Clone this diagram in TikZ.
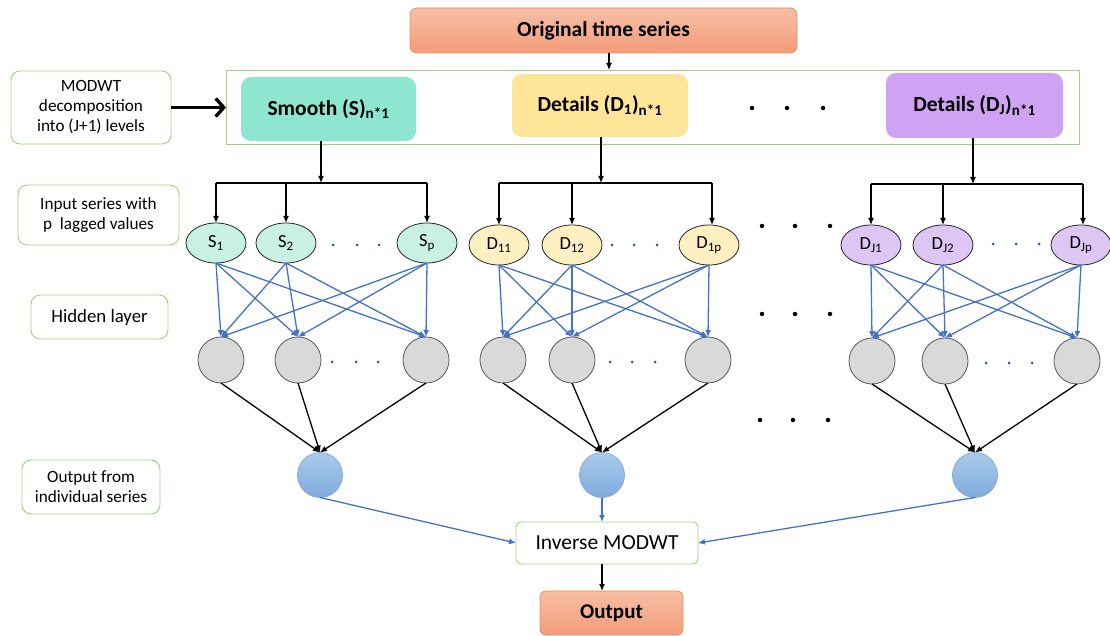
\documentclass[tikz,border=0pt]{standalone}
\usepackage{fontspec}
\setmainfont{Carlito}
\usetikzlibrary{arrows.meta,shapes.geometric}

\definecolor{orangeT}{HTML}{F7BFA5}
\definecolor{orangeB}{HTML}{F39C7A}
\definecolor{orangeD}{HTML}{EE8A5E}
\definecolor{greenB}{HTML}{A3CD85}
\definecolor{mint}{HTML}{8EE6D0}
\definecolor{yel}{HTML}{FFE597}
\definecolor{lav}{HTML}{CFA2F3}
\definecolor{mintL}{HTML}{C8F0E3}
\definecolor{yelL}{HTML}{FFF0C2}
\definecolor{lavL}{HTML}{DEC6F4}
\definecolor{hid}{HTML}{D9D9D9}
\definecolor{hidD}{HTML}{595959}
\definecolor{blueL}{HTML}{4472C4}
\definecolor{outT}{HTML}{A9CAEB}
\definecolor{outB}{HTML}{80ABDC}
\definecolor{outD}{HTML}{7BA3D6}
\definecolor{dotB}{HTML}{2F5597}

\begin{document}
\begin{tikzpicture}[x=1pt,y=-1pt,
  every node/.style={inner sep=0pt,outer sep=0pt},
  orangebox/.style={rectangle,rounded corners=7pt,top color=orangeT,bottom color=orangeB,draw=orangeD,line width=0.8pt,font=\fontsize{21.5}{24}\selectfont\bfseries},
  labelbox/.style={rectangle,rounded corners=9pt,draw=greenB,line width=0.9pt,fill=white,align=center,font=\fontsize{17.2}{20}\selectfont},
  compbox/.style={rectangle,rounded corners=10pt,font=\fontsize{21.5}{24}\selectfont\bfseries},
  inbase/.style={ellipse,minimum width=60pt,minimum height=40pt,draw=black!85,line width=0.8pt,font=\fontsize{18.5}{20}\selectfont},
  inS/.style={inbase,fill=mintL},
  inD/.style={inbase,fill=yelL},
  inJ/.style={inbase,fill=lavL},
  hidden/.style={circle,minimum size=46pt,fill=hid,draw=hidD,line width=0.8pt},
  outc/.style={circle,minimum size=45pt,top color=outT,bottom color=outB,draw=outD,line width=0.6pt},
  arr/.style={-{Latex[length=7pt,width=6pt]},line width=1.3pt,black},
  barl/.style={line width=1.3pt,black},
  barr/.style={-{Latex[length=7pt,width=6pt]},line width=1.3pt,blueL},
  bigdot/.style={circle,fill=black,minimum size=4.5pt},
  smalldot/.style={circle,fill=dotB,minimum size=3pt}
]
\useasboundingbox (0,0) rectangle (1110,636);

% top
\node[orangebox,minimum width=387pt,minimum height=45pt] (orig) at (603.5,30.5) {Original time series};
\node[draw=greenB,line width=0.9pt,minimum width=853pt,minimum height=74pt] (big) at (652.5,107) {};
\node[labelbox,minimum width=160pt,minimum height=73pt] (modwt) at (91,107.5) {MODWT\\decomposition\\into (J+1) levels};
\node[compbox,fill=mint,minimum width=175pt,minimum height=64pt] (smooth) at (328.5,109) {Smooth (S)\textsubscript{n*1}};
\node[compbox,fill=yel,minimum width=176pt,minimum height=63pt] (det1) at (600,105.5) {Details (D\textsubscript{1})\textsubscript{n*1}};
\node[compbox,fill=lav,minimum width=177pt,minimum height=65pt] (detJ) at (974.5,105.5) {Details (D\textsubscript{J})\textsubscript{n*1}};
\node[bigdot] (td1) at (752,108) {};
\node[bigdot] (td2) at (787,108) {};
\node[bigdot] (td3) at (823,108) {};

\coordinate (ot) at (609,70);
\draw[arr] (orig.south -| ot) -- (ot);
\draw[-{Straight Barb[length=8pt,width=18pt]},line width=3.4pt] (modwt.east) -- (big.west |- modwt.east);

% side labels
\node[labelbox,minimum width=161pt,minimum height=60pt] (lin) at (98.5,215) {Input series with\\p~ lagged values};
\node[labelbox,minimum width=137pt,minimum height=44pt,font=\fontsize{18.8}{22}\selectfont] (lhid) at (99.5,317) {Hidden layer};
\node[labelbox,minimum width=138pt,minimum height=54pt] (lout) at (91,487) {Output from\\individual series};

% input ellipses
\node[inS] (s1) at (216,243) {S\textsubscript{1}};
\node[inS] (s2) at (286,243) {S\textsubscript{2}};
\node[inS] (sp) at (427,243) {S\textsubscript{p}};
\node[inD] (d1) at (499,245) {D\textsubscript{11}};
\node[inD] (d2) at (572,245) {D\textsubscript{12}};
\node[inD] (dp) at (709,245) {D\textsubscript{1p}};
\node[inJ] (j1) at (871,245) {D\textsubscript{J1}};
\node[inJ] (j2) at (943,245) {D\textsubscript{J2}};
\node[inJ] (jp) at (1081,245) {D\textsubscript{Jp}};

% hidden
\node[hidden] (hs1) at (221,360) {};
\node[hidden] (hs2) at (298,360) {};
\node[hidden] (hsp) at (426,360) {};
\node[hidden] (hd1) at (503,360) {};
\node[hidden] (hd2) at (572,360) {};
\node[hidden] (hdp) at (708,360) {};
\node[hidden] (hj1) at (872,361) {};
\node[hidden] (hj2) at (945,361) {};
\node[hidden] (hjp) at (1077,361) {};

% outputs
\node[outc] (os) at (320,475) {};
\node[outc] (od) at (602,475) {};
\node[outc] (oj) at (975,475) {};

\node[rectangle,rounded corners=5pt,draw=greenB,line width=0.9pt,fill=white,minimum width=182pt,minimum height=42pt,font=\fontsize{21.5}{24}\selectfont] (inv) at (607,543) {Inverse MODWT};
\node[orangebox,rounded corners=6pt,minimum width=143pt,minimum height=44pt,font=\fontsize{21}{24}\selectfont\bfseries] (out) at (611.5,613) {Output};

% small dots
\foreach \x [count=\i] in {333,357,379} {\node[smalldot] (sa\i) at (\x,245) {}; \node[smalldot] (sb\i) at (\x-1,362) {};}
\foreach \x [count=\i] in {612,634,657} {\node[smalldot] (da\i) at (\x,245) {}; \node[smalldot] (db\i) at (\x-2,362) {};}
\foreach \x [count=\i] in {993,1016,1039} {\node[smalldot] (ja\i) at (\x,244) {}; \node[smalldot] (jb\i) at (\x-7,363) {};}
% big dots
\foreach \x [count=\i] in {762,795,830} {\node[bigdot] (ba\i) at (\x,226) {}; \node[bigdot] (bb\i) at (\x,314) {}; \node[bigdot] (bc\i) at (\x-2,420) {};}

% branching
\coordinate (sj) at (321,183);
\coordinate (dj) at (601,183);
\coordinate (jj) at (973,184);
\draw[arr] (smooth.south -| sj) -- (sj);
\draw[arr] (det1.south -| dj) -- (dj);
\draw[arr] (detJ.south -| jj) -- (jj);
\draw[barl] (s1.north |- sj) -- (sp.north |- sj);
\draw[barl] (d1.north |- dj) -- ([xshift=3pt]dp.north |- dj);
\draw[barl] (j1.north |- jj) -- ([xshift=2pt]jp.north |- jj);
\foreach \n in {s1,s2,sp} \draw[arr] (\n.north |- sj) -- (\n.north);
\foreach \n in {d1,d2} \draw[arr] (\n.north |- dj) -- (\n.north);
\draw[arr] ([xshift=3pt]dp.north |- dj) -- ([xshift=3pt]dp.north);
\foreach \n in {j1,j2} \draw[arr] (\n.north |- jj) -- (\n.north);
\draw[arr] ([xshift=2pt]jp.north |- jj) -- ([xshift=2pt]jp.north);

% input -> hidden
\foreach \a in {s1,s2,sp} \foreach \b in {hs1,hs2,hsp} \draw[barr] (\a.south) -- (\b.north);
\foreach \a in {d1,d2,dp} \foreach \b in {hd1,hd2,hdp} \draw[barr] (\a.south) -- (\b.north);
\foreach \a in {j1,j2,jp} \foreach \b in {hj1,hj2,hjp} \draw[barr] (\a.south) -- (\b.north);

% hidden -> output
\foreach \b in {hs1,hs2,hsp} \draw[arr] (\b.south) -- (os.north);
\foreach \b in {hd1,hd2,hdp} \draw[arr] (\b.south) -- (od.north);
\foreach \b in {hj1,hj2,hjp} \draw[arr] (\b.south) -- (oj.north);

% outputs -> inverse
\draw[barr] (os.south) -- (inv.west);
\draw[barr] (od.south) -- (od.south |- inv.north);
\draw[barr] (oj.south) -- (inv.east);
\draw[arr] (inv.south -| od) -- (out.north -| od);
\end{tikzpicture}
\end{document}
